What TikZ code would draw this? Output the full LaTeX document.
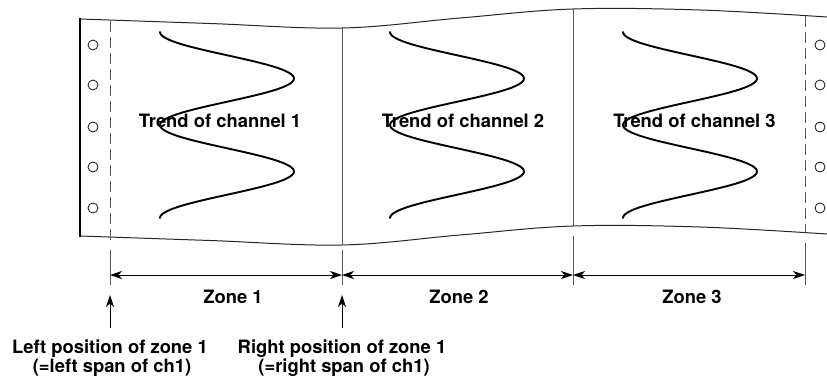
\documentclass[tikz,border=0pt]{standalone}
\usepackage{fontspec}
\setmainfont{TeX Gyre Heros}
\usetikzlibrary{arrows.meta}
\tikzset{
  edge/.style={line width=1pt, black!85},
  thickedge/.style={line width=2.8pt, black},
  divider/.style={line width=1pt, black!65},
  perf/.style={line width=1pt, black!65, dash pattern=on 11pt off 5pt},
  hole/.style={line width=0.9pt, black!85},
  trend/.style={line width=1.9pt, black, line cap=round},
  extline/.style={line width=1pt, black!65},
  dim/.style={line width=1pt, black, {Stealth[length=12pt,width=8pt,inset=3.5pt]}-{Stealth[length=12pt,width=8pt,inset=3.5pt]}},
  pointer/.style={line width=1pt, black, -{Stealth[length=12pt,width=8pt,inset=3.5pt]}},
  lbl/.style={font=\bfseries\fontsize{18.4}{21}\selectfont, inner sep=0pt, anchor=base},
}
\begin{document}
\begin{tikzpicture}[x=1pt, y=-1pt]
\useasboundingbox (0,0) rectangle (827,380);

% paper edges
\draw[edge] plot[smooth, tension=0.6] coordinates {(80,19) (210,23.5) (342,28) (460,18) (573,9) (700,10) (827,17)};
\draw[edge] plot[smooth, tension=0.6] coordinates {(80,236) (210,240.5) (342,245) (460,235) (573,226) (700,227) (827,234)};
\draw[thickedge] (80,18) -- (80,237);

% perforation lines
\draw[perf] (110,20.5) -- (110,240);
\draw[perf] (805,15.5) -- (805,233);

% holes
\foreach \yy in {45,85,127,167,208}{
  \draw[hole] (93,\yy) circle[radius=5pt];
  \draw[hole] (820,\yy) circle[radius=5pt];
}

% zone dividers on the paper
\draw[divider] (342,28) -- (342,245);
\draw[divider] (573,9) -- (573,226);

% trend curves
\foreach \xs in {160,390,623}{
  \draw[trend] plot[domain=0:4, samples=121, smooth] ({\xs+67*(1-cos(180*\x))},{32+46.5*\x});
}

% trend labels
\node[lbl] (t1) at (220,127) {Trend of channel 1};
\node[lbl] (t2) at (463,127) {Trend of channel 2};
\node[lbl] (t3) at (694.5,127) {Trend of channel 3};

% extension lines
\draw[extline] (110,250) -- (110,285);
\draw[extline] (342,250) -- (342,285);
\draw[extline] (573,236) -- (573,285);
\draw[extline] (805,243) -- (805,285);

% dimension arrows
\coordinate (z0) at (110,275);
\coordinate (z1) at (342,275);
\coordinate (z2) at (573,275);
\coordinate (z3) at (805,275);
\draw[dim] (z0) -- (z1);
\draw[dim] (z1) -- (z2);
\draw[dim] (z2) -- (z3);

\node[lbl] (zone1) at (233,303) {Zone 1};
\node[lbl] (zone2) at (459,303) {Zone 2};
\node[lbl] (zone3) at (692,303) {Zone 3};

% pointers
\coordinate (a0) at (110,328);
\coordinate (p0) at (110,295);
\coordinate (a1) at (342,328);
\coordinate (p1) at (342,295);
\draw[pointer] (a0) -- (p0);
\draw[pointer] (a1) -- (p1);

\node[lbl] (l1) at (110,353) {Left position of zone 1};
\node[lbl] (l2) at (112,372) {(=left span of ch1)};
\node[lbl] (r1) at (342,353) {Right position of zone 1};
\node[lbl] (r2) at (344,372) {(=right span of ch1)};
\end{tikzpicture}
\end{document}
